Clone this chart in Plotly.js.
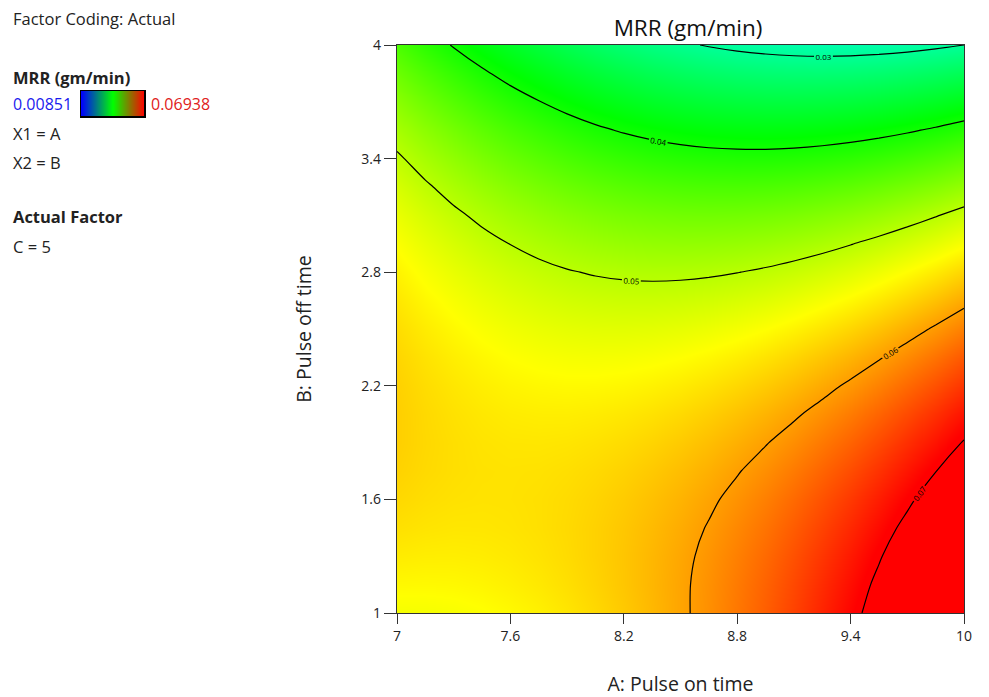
<!DOCTYPE html>
<html>
<head>
<meta charset="utf-8">
<script src="https://cdn.plot.ly/plotly-3.0.1.min.js"></script>
<style>html,body{margin:0;padding:0;background:#fff;}#chart{width:989px;height:697px;}</style>
</head>
<body>
<div id="chart"></div>
<script>
// A: Pulse on time (x), B: Pulse off time (y)
const pulseOn = [7, 7.15, 7.3, 7.45, 7.6, 7.75, 7.9, 8.05, 8.2, 8.35, 8.5, 8.65, 8.8, 8.95, 9.1, 9.25, 9.4, 9.55, 9.7, 9.85, 10];
const pulseOff = [1, 1.15, 1.3, 1.45, 1.6, 1.75, 1.9, 2.05, 2.2, 2.35, 2.5, 2.65, 2.8, 2.95, 3.1, 3.25, 3.4, 3.55, 3.7, 3.85, 4];
// MRR (gm/min), one row per pulseOff value
const mrr = [
  [0.05356,0.05360,0.05376,0.05404,0.05446,0.05499,0.05566,0.05644,0.05736,0.05840,0.05956,0.06085,0.06227,0.06381,0.06547,0.06726,0.06918,0.07122,0.07339,0.07568,0.07810],
  [0.05452,0.05447,0.05453,0.05472,0.05504,0.05548,0.05605,0.05674,0.05756,0.05851,0.05958,0.06077,0.06209,0.06354,0.06511,0.06681,0.06863,0.07057,0.07265,0.07485,0.07717],
  [0.05533,0.05518,0.05515,0.05525,0.05547,0.05582,0.05629,0.05689,0.05761,0.05846,0.05944,0.06054,0.06176,0.06311,0.06459,0.06619,0.06792,0.06977,0.07175,0.07385,0.07608],
  [0.05599,0.05574,0.05561,0.05562,0.05574,0.05600,0.05638,0.05688,0.05751,0.05826,0.05914,0.06015,0.06128,0.06253,0.06392,0.06542,0.06706,0.06881,0.07070,0.07270,0.07484],
  [0.05648,0.05614,0.05592,0.05583,0.05586,0.05602,0.05630,0.05671,0.05725,0.05791,0.05869,0.05960,0.06064,0.06180,0.06309,0.06450,0.06604,0.06770,0.06949,0.07140,0.07344],
  [0.05683,0.05639,0.05608,0.05589,0.05583,0.05589,0.05608,0.05639,0.05683,0.05740,0.05809,0.05890,0.05985,0.06091,0.06210,0.06342,0.06486,0.06643,0.06813,0.06994,0.07189],
  [0.05702,0.05648,0.05608,0.05579,0.05564,0.05561,0.05570,0.05592,0.05626,0.05673,0.05733,0.05805,0.05890,0.05987,0.06096,0.06219,0.06353,0.06501,0.06661,0.06833,0.07018],
  [0.05705,0.05642,0.05592,0.05554,0.05529,0.05517,0.05516,0.05529,0.05554,0.05591,0.05641,0.05704,0.05779,0.05867,0.05967,0.06080,0.06205,0.06343,0.06493,0.06656,0.06832],
  [0.05693,0.05621,0.05561,0.05514,0.05479,0.05457,0.05447,0.05450,0.05466,0.05494,0.05534,0.05588,0.05653,0.05731,0.05822,0.05926,0.06041,0.06170,0.06311,0.06464,0.06630],
  [0.05665,0.05584,0.05514,0.05458,0.05413,0.05382,0.05363,0.05356,0.05362,0.05381,0.05412,0.05456,0.05512,0.05581,0.05662,0.05756,0.05862,0.05981,0.06112,0.06256,0.06413],
  [0.05622,0.05531,0.05452,0.05386,0.05332,0.05291,0.05263,0.05247,0.05243,0.05252,0.05274,0.05308,0.05355,0.05414,0.05486,0.05570,0.05667,0.05777,0.05899,0.06033,0.06180],
  [0.05563,0.05463,0.05375,0.05299,0.05236,0.05185,0.05147,0.05122,0.05109,0.05109,0.05121,0.05145,0.05183,0.05232,0.05295,0.05370,0.05457,0.05557,0.05669,0.05794,0.05932],
  [0.05489,0.05379,0.05281,0.05196,0.05124,0.05064,0.05016,0.04981,0.04959,0.04949,0.04952,0.04967,0.04995,0.05035,0.05088,0.05153,0.05231,0.05321,0.05424,0.05540,0.05668],
  [0.05400,0.05280,0.05173,0.05078,0.04996,0.04927,0.04870,0.04825,0.04793,0.04774,0.04767,0.04773,0.04791,0.04822,0.04865,0.04921,0.04990,0.05071,0.05164,0.05270,0.05389],
  [0.05294,0.05165,0.05049,0.04945,0.04853,0.04774,0.04708,0.04654,0.04612,0.04584,0.04567,0.04564,0.04572,0.04594,0.04627,0.04674,0.04733,0.04804,0.04888,0.04985,0.05094],
  [0.05174,0.05035,0.04909,0.04796,0.04695,0.04606,0.04530,0.04467,0.04416,0.04378,0.04352,0.04339,0.04338,0.04350,0.04374,0.04411,0.04461,0.04523,0.04597,0.04684,0.04784],
  [0.05038,0.04890,0.04754,0.04631,0.04520,0.04423,0.04337,0.04264,0.04204,0.04156,0.04121,0.04098,0.04088,0.04090,0.04105,0.04133,0.04173,0.04225,0.04290,0.04368,0.04458],
  [0.04886,0.04728,0.04583,0.04451,0.04331,0.04224,0.04129,0.04046,0.03976,0.03919,0.03874,0.03842,0.03823,0.03815,0.03821,0.03839,0.03869,0.03912,0.03968,0.04036,0.04117],
  [0.04719,0.04552,0.04397,0.04255,0.04126,0.04009,0.03905,0.03813,0.03733,0.03667,0.03612,0.03571,0.03542,0.03525,0.03521,0.03530,0.03551,0.03584,0.03630,0.03689,0.03760],
  [0.04536,0.04360,0.04196,0.04044,0.03905,0.03779,0.03665,0.03564,0.03475,0.03399,0.03335,0.03284,0.03245,0.03219,0.03206,0.03205,0.03216,0.03240,0.03277,0.03326,0.03388],
  [0.04338,0.04152,0.03979,0.03818,0.03669,0.03533,0.03410,0.03299,0.03201,0.03115,0.03042,0.02981,0.02933,0.02898,0.02875,0.02864,0.02866,0.02881,0.02908,0.02948,0.03000]
];
const mrrMin = 0.00851;
const mrrMax = 0.06938;
const contourLevels = [0.03, 0.07, 0.01]; // start, end, step
const xTicks = [7, 7.6, 8.2, 8.8, 9.4, 10];
const xTickText = ['7', '7.6', '8.2', '8.8', '9.4', '10'];
const yTicks = [1, 1.6, 2.2, 2.8, 3.4, 4];
const yTickText = ['1', '1.6', '2.2', '2.8', '3.4', '4'];

const W = 989, H = 697;
const px = v => v / W;
const py = v => 1 - v / H;
const FONT = 'Open Sans, Noto Sans, sans-serif';

const mainScale = [[0,'#0000ff'],[0.25,'#00ffff'],[0.5,'#00ff00'],[0.75,'#ffff00'],[1,'#ff0000']];
const legendScale = [[0,'#0000ff'],[0.5,'#00ff00'],[1,'#ff0000']];

const traces = [
  {
    type: 'heatmap', x: pulseOn, y: pulseOff, z: mrr,
    zmin: mrrMin, zmax: mrrMax, colorscale: mainScale, zsmooth: 'best',
    showscale: false, hoverinfo: 'skip'
  },
  {
    type: 'contour', x: pulseOn, y: pulseOff, z: mrr,
    contours: {start: contourLevels[0], end: contourLevels[1], size: contourLevels[2],
               coloring: 'none', showlabels: true,
               labelfont: {size: 8, color: '#000', family: FONT}, labelformat: '.2f'},
    line: {color: '#000', width: 1.2, smoothing: 0.8},
    showscale: false, hoverinfo: 'skip'
  },
  {
    type: 'heatmap', x: [0, 1], y: [0], z: [[mrrMin, mrrMax]],
    zmin: mrrMin, zmax: mrrMax, colorscale: legendScale, zsmooth: 'best',
    showscale: false, hoverinfo: 'skip', xaxis: 'x2', yaxis: 'y2'
  }
];

const ann = (text, x, y, opts) => Object.assign({
  text: text, x: px(x), y: py(y), xref: 'paper', yref: 'paper',
  xanchor: 'left', yanchor: 'middle', showarrow: false,
  font: {family: FONT, size: 16.5, color: '#222'}
}, opts || {});

const layout = {
  width: W, height: H,
  margin: {l: 0, r: 0, t: 0, b: 0},
  paper_bgcolor: '#fff', plot_bgcolor: '#fff',
  font: {family: FONT, color: '#222'},
  title: {text: 'MRR (gm/min)', x: px(688), xanchor: 'center', xref: 'paper',
          y: py(28), yanchor: 'middle', yref: 'container',
          font: {family: FONT, size: 22.5, color: '#111'}},
  xaxis: {
    domain: [px(397), px(964)], range: [7, 10],
    tickmode: 'array', tickvals: xTicks, ticktext: xTickText,
    ticks: 'outside', ticklen: 10, tickcolor: '#333', tickwidth: 1,
    showline: true, linecolor: '#333', linewidth: 1.2, mirror: true,
    showgrid: false, zeroline: false,
    tickfont: {family: FONT, size: 14, color: '#222'},
    title: {text: 'A: Pulse on time', standoff: 33, font: {family: FONT, size: 19.5, color: '#222'}}
  },
  yaxis: {
    domain: [1 - 613 / H, 1 - 45 / H], range: [1, 4],
    tickmode: 'array', tickvals: yTicks, ticktext: yTickText,
    ticks: 'outside', ticklen: 12, tickcolor: '#333', tickwidth: 1,
    showline: true, linecolor: '#333', linewidth: 1.2, mirror: true,
    showgrid: false, zeroline: false,
    tickfont: {family: FONT, size: 14, color: '#222'},
    title: {text: 'B: Pulse off time', standoff: 44, font: {family: FONT, size: 19.5, color: '#222'}}
  },
  xaxis2: {domain: [px(81), px(144)], range: [0, 1], anchor: 'y2',
           showticklabels: false, ticks: '', showgrid: false, zeroline: false,
           showline: true, linecolor: '#000', linewidth: 1.5, mirror: true},
  yaxis2: {domain: [py(116), py(91)], range: [-0.5, 0.5], anchor: 'x2',
           showticklabels: false, ticks: '', showgrid: false, zeroline: false,
           showline: true, linecolor: '#000', linewidth: 1.5, mirror: true},
  annotations: [
    ann('Factor Coding: Actual', 11, 19),
    ann('<b>MRR (gm/min)</b>', 11, 77),
    ann('0.00851', 11, 104, {font: {family: FONT, size: 16, color: '#1a1aee'}}),
    ann('0.06938', 149, 104, {font: {family: FONT, size: 16, color: '#e02020'}}),
    ann('X1 = A', 11, 133),
    ann('X2 = B', 11, 162),
    ann('<b>Actual Factor</b>', 11, 217),
    ann('C = 5', 11, 246)
  ]
};

Plotly.newPlot('chart', traces, layout, {displayModeBar: false, staticPlot: true});
</script>
</body>
</html>
